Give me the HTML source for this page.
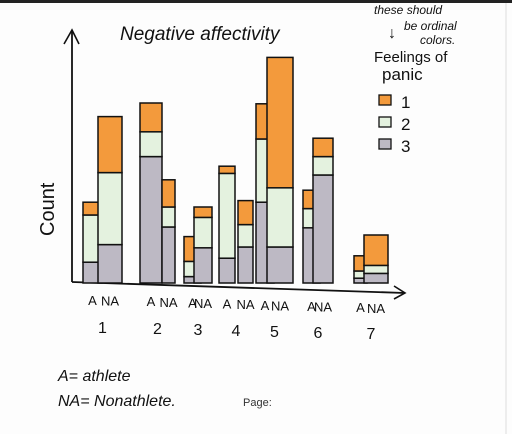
<!DOCTYPE html>
<html><head><meta charset="utf-8"><style>
body{margin:0;background:#fff;}
svg{display:block;font-family:"Liberation Sans",sans-serif;}
</style></head><body>
<svg id="chart" width="512" height="434" viewBox="0 0 512 434">
<rect x="0" y="0" width="512" height="434" fill="#fdfdfd"/>
<rect x="0" y="0" width="512" height="3" fill="#222"/>
<line x1="506" y1="3" x2="506" y2="434" stroke="#ddd" stroke-width="1"/>
<text x="120" y="40" font-size="19" fill="#111" font-style="italic">Negative affectivity</text>
<text x="374" y="14" font-size="12" fill="#111" font-style="italic">these should</text>
<text x="404" y="30" font-size="12" fill="#111" font-style="italic">be ordinal</text>
<text x="420" y="44" font-size="12" fill="#111" font-style="italic">colors.</text>
<text x="388" y="38" font-size="16" fill="#111">↓</text>
<text x="374" y="62" font-size="15" fill="#111">Feelings of</text>
<text x="382" y="80" font-size="17" fill="#111">panic</text>
<g id="legend"></g>
<line x1="72" y1="282" x2="72" y2="30" stroke="#111" stroke-width="1.8"/>
<polyline points="64,44 72,30 79,44" fill="none" stroke="#111" stroke-width="1.6"/>
<line x1="72" y1="282" x2="405" y2="293" stroke="#111" stroke-width="1.8"/>
<polyline points="394,286 405,293 394,299" fill="none" stroke="#111" stroke-width="1.6"/>
<text transform="translate(54,236) rotate(-90)" font-size="20" fill="#111">Count</text>
<g id="bars"></g>
<g id="xlabels"></g>
<text x="58" y="381" font-size="16" fill="#111" font-style="italic">A= athlete</text>
<text x="58" y="406" font-size="16" fill="#111" font-style="italic">NA= Nonathlete.</text>
<text x="243" y="406" font-size="11" fill="#333">Page:</text>
</svg>
<script>
const groups = ["1","1","2","2","3","3","4","4","5","5","6","6","7","7"];
const types = ["A","NA","A","NA","A","NA","A","NA","A","NA","A","NA","A","NA"];
const panic3 = [2.6,4.8,15.8,7,0.8,4.4,3.1,4.5,10.1,4.5,6.9,13.5,0.6,1.2];
const panic2 = [5.9,9,3.1,2.5,1.9,3.8,10.6,2.8,7.9,7.4,2.4,2.3,0.9,1.0];
const panic1 = [1.6,7,3.6,3.4,3.1,1.3,0.9,3,4.4,16.3,2.3,2.3,1.9,3.8];
const legendLabels = ["1","2","3"];
const colors = ["#f39a3c","#e4f2df","#bdb9c4"];
const ns="http://www.w3.org/2000/svg";
const base=283, pxPerUnit=8;
const xLeft=[83,98,140,162,184,194,219,238,256,267,303,313,354,364];
const widths=[19,24,22,13,17,18,16,15,18,26,17,20,13,24];
function y(v){return base - v*pxPerUnit;}
const bars=document.getElementById('bars');
for(let i=0;i<groups.length;i++){
  const segs=[panic3[i],panic2[i],panic1[i]];
  let cum=0;
  for(let s=0;s<3;s++){
    const r=document.createElementNS(ns,'rect');
    r.setAttribute('x',xLeft[i]);
    r.setAttribute('y',y(cum+segs[s]));
    r.setAttribute('width',widths[i]);
    r.setAttribute('height',segs[s]*pxPerUnit);
    r.setAttribute('fill',colors[2-s]);
    r.setAttribute('stroke','#111');
    r.setAttribute('stroke-width','1.5');
    
    
    bars.appendChild(r);
    cum+=segs[s];
  }
}
const xl=document.getElementById('xlabels');
for(let i=0;i<groups.length;i++){
  const t=document.createElementNS(ns,'text');
  t.setAttribute('x',xLeft[i]+widths[i]/2);
  t.setAttribute('y',305+i*0.6);
  t.setAttribute('text-anchor','middle');
  t.setAttribute('font-size','13');
  t.setAttribute('fill','#111');
  
  
  t.textContent=types[i];
  xl.appendChild(t);
  if(i%2===0){
    const g=document.createElementNS(ns,'text');
    g.setAttribute('x',(xLeft[i]+xLeft[i+1]+widths[i+1])/2);
    g.setAttribute('y',333+i*0.5);
    g.setAttribute('text-anchor','middle');
    g.setAttribute('font-size','16');
    g.setAttribute('fill','#111');
    
    
    g.textContent=groups[i];
    xl.appendChild(g);
  }
}
const lg=document.getElementById('legend');
for(let k=0;k<3;k++){
  const r=document.createElementNS(ns,'rect');
  r.setAttribute('x',379);r.setAttribute('y',95+k*22);
  r.setAttribute('width',12);r.setAttribute('height',10);
  r.setAttribute('fill',colors[k]);r.setAttribute('stroke','#111');r.setAttribute('stroke-width','1.3');
  
  
  lg.appendChild(r);
  const t=document.createElementNS(ns,'text');
  t.setAttribute('x',401);t.setAttribute('y',108+k*22);
  t.setAttribute('font-size','17');t.setAttribute('fill','#111');
  
  
  t.textContent=legendLabels[k];
  lg.appendChild(t);
}
</script>
</body></html>
